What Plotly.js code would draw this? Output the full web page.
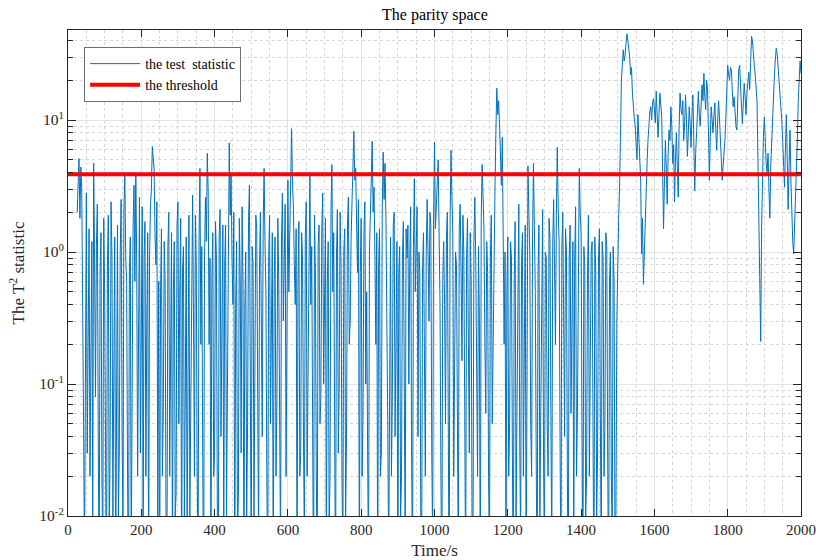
<!DOCTYPE html>
<html>
<head>
<meta charset="utf-8">
<script src="https://cdn.plot.ly/plotly-3.0.1.min.js"></script>
<style>html,body{margin:0;padding:0;background:#fff;}#chart{width:816px;height:560px;}</style>
</head>
<body>
<div id="chart"></div>
<script>
// ---- data ----
// samples at t = 25, 30, ..., 2000
const timeStart = 25;
const timeStep = 5;
const testStatistic = [
  2.0, 5.1, 4.4, 0.7, 0.004, 2.8, 0.15, 0.02, 1.2, 4.7,
  0.08, 2.3, 0.003, 1.4, 0.006, 0.5, 0.002, 1.9, 0.04, 0.9,
  0.25, 0.003, 1.6, 0.03, 2.5, 0.007, 4.0, 0.6, 0.002, 1.3,
  0.1, 3.2, 4.0, 0.02, 2.6, 0.4, 0.005, 1.7, 0.3, 0.003,
  2.2, 6.3, 4.2, 0.8, 0.01, 0.002, 1.5, 0.06, 0.6, 0.004,
  2.0, 0.3, 0.003, 1.2, 0.015, 2.4, 0.5, 0.002, 1.1, 0.08,
  0.006, 1.9, 0.12, 2.7, 0.02, 0.8, 0.004, 4.3, 1.1, 0.002,
  2.6, 5.6, 0.2, 0.003, 1.4, 0.03, 0.9, 0.002, 2.1, 0.35,
  0.005, 1.6, 0.09, 6.7, 3.8, 0.4, 0.002, 1.2, 0.015, 0.6,
  2.2, 0.003, 1.0, 0.05, 3.2, 0.004, 0.8, 0.2, 1.5, 0.006,
  2.0, 0.04, 4.3, 0.5, 0.003, 1.9, 0.25, 0.002, 1.3, 0.07,
  0.6, 0.005, 2.8, 1.0, 0.02, 3.5, 1.6, 8.6, 2.2, 0.4,
  0.003, 1.7, 0.03, 0.9, 0.006, 2.4, 0.15, 3.9, 1.1, 0.002,
  0.7, 0.004, 1.6, 0.08, 2.8, 0.3, 0.003, 1.2, 0.02, 4.6,
  1.4, 0.002, 2.1, 0.1, 0.8, 0.005, 1.5, 0.04, 2.6, 0.3,
  3.0, 8.2, 4.3, 0.7, 0.003, 1.8, 0.06, 2.4, 0.5, 0.004,
  2.2, 6.9, 3.1, 0.2, 0.002, 1.5, 0.03, 5.7, 4.7, 0.5,
  0.004, 1.3, 0.08, 2.0, 0.3, 0.002, 1.1, 0.02, 1.7, 0.006,
  0.9, 0.1, 2.2, 0.003, 3.6, 1.2, 0.04, 0.7, 0.005, 1.4,
  0.02, 2.5, 0.3, 1.6, 0.006, 6.8, 2.8, 5.0, 0.4, 0.003,
  1.2, 0.05, 2.0, 0.002, 5.9, 1.4, 0.1, 0.8, 0.004, 2.3,
  0.15, 1.0, 0.003, 1.8, 0.03, 0.6, 0.005, 2.6, 0.2, 1.1,
  0.002, 4.6, 1.5, 0.06, 0.7, 0.004, 1.9, 0.3, 3.0, 17.4,
  14.0, 5.0, 7.4, 0.2, 0.004, 1.3, 0.05, 0.9, 0.002, 1.7,
  0.1, 2.3, 0.006, 1.4, 0.3, 0.003, 4.5, 1.0, 0.02, 4.7,
  0.5, 0.002, 1.6, 0.08, 2.1, 0.004, 0.9, 0.02, 1.3, 0.005,
  2.5, 0.2, 6.2, 1.2, 0.003, 2.0, 0.04, 1.0, 0.002, 1.6,
  0.3, 0.005, 2.2, 0.06, 4.3, 1.4, 0.003, 0.8, 0.02, 1.9,
  0.1, 1.2, 0.002, 0.7, 0.03, 1.5, 0.004, 0.9, 0.05, 1.1,
  0.002, 1.0, 0.006, 0.6, 0.01, 1.2,
  3.1, 20, 34, 31, 45, 36, 22, 16, 10.5, 7,
  11, 6, 0.97, 0.57, 2.1, 4.7, 9.8, 12.6, 13.5, 12,
  16.5, 7.4, 16, 10.5, 1.5, 7, 2.3, 8.4, 12.6, 4.7,
  2.4, 8, 2.6, 16, 11, 7, 15.5, 5.3, 12.6, 6.2,
  15.5, 2.9, 9, 16.5, 9, 18.5, 22.6, 12, 17, 3.5,
  12.6, 8, 13.5, 5.9, 14, 7, 3.5, 5.6, 10.5, 26,
  20, 24, 12.6, 11, 8.4, 24, 20, 9.4, 19, 11,
  21, 17, 43, 30, 22, 14, 2, 0.21, 4.7, 10.5,
  4.7, 5.6, 1.8, 7.4, 16, 29, 32, 21, 14, 7,
  3.1, 11, 2.1, 8.4, 1.8, 0.97, 2.3, 7, 24, 22.6
];
// samples in between, at t = 27.5, 32.5, ..., 1997.5
const testStatisticMid = [
  3.5, 1.8, 3.0, 0.05, 0.6, 0.03, 1.5, 0.6, 0.01, 0.9,
  1.1, 0.04, 0.7, 0.02, 1.8, 0.03, 0.8, 0.005, 2.4, 0.01,
  1.3, 0.5, 0.01, 1.0, 0.05, 2.0, 0.9, 0.02, 0.7, 0.004,
  1.5, 0.6, 0.8, 1.1, 0.03, 2.2, 0.9, 0.02, 1.4, 0.9,
  3.0, 5.0, 1.3, 2.4, 0.6, 0.5, 0.02, 1.2, 0.008, 1.1,
  0.02, 1.4, 0.5, 0.01, 1.6, 0.05, 1.8, 0.7, 0.01, 1.3,
  0.7, 0.01, 1.5, 0.3, 1.9, 0.02, 1.2, 0.2, 0.03, 0.9,
  1.2, 2.9, 0.9, 0.6, 0.02, 1.7, 0.01, 1.3, 0.04, 1.6,
  0.8, 0.01, 2.5, 1.9, 0.9, 2.0, 0.4, 0.006, 1.8, 0.03,
  0.6, 0.4, 0.01, 1.7, 0.1, 1.1, 0.01, 1.9, 0.03, 0.8,
  0.3, 1.5, 1.2, 0.02, 0.9, 0.05, 1.4, 0.6, 0.02, 1.8,
  0.03, 1.2, 0.3, 2.3, 1.0, 0.5, 3.0, 3.4, 0.8, 1.5,
  0.6, 0.02, 1.4, 0.04, 1.3, 0.02, 1.6, 0.4, 0.05, 1.9,
  0.02, 1.1, 0.05, 1.5, 0.1, 1.8, 0.6, 0.008, 2.0, 0.5,
  0.1, 0.9, 0.03, 2.0, 0.02, 1.0, 0.01, 1.6, 0.2, 1.3,
  4.8, 3.5, 1.6, 2.5, 0.7, 0.02, 1.4, 0.1, 0.03, 1.0,
  4.0, 2.0, 0.9, 1.4, 0.8, 0.02, 2.2, 2.5, 1.8, 0.05,
  0.5, 0.02, 1.6, 0.04, 1.2, 0.7, 0.01, 0.9, 0.1, 1.5,
  1.6, 0.9, 0.03, 1.1, 0.5, 2.2, 1.0, 0.01, 0.8, 0.3,
  1.0, 0.9, 2.0, 0.03, 1.9, 1.5, 3.4, 1.1, 0.02, 0.6,
  0.4, 1.3, 0.06, 1.7, 2.6, 0.02, 1.0, 0.03, 1.5, 0.7,
  1.9, 0.06, 0.9, 0.2, 1.4, 0.01, 1.2, 0.9, 0.02, 0.3,
  1.8, 2.5, 0.2, 1.2, 0.02, 0.9, 0.05, 1.7, 8.0, 11.0,
  9.0, 3.2, 1.8, 1.0, 0.5, 0.02, 1.2, 0.03, 0.6, 0.01,
  0.9, 0.04, 0.8, 0.02, 1.6, 1.1, 2.0, 0.05, 1.3, 1.6,
  0.03, 0.7, 0.01, 1.3, 0.03, 1.0, 0.05, 1.8, 0.06, 1.1,
  0.8, 1.9, 2.2, 0.04, 1.1, 0.3, 1.5, 0.02, 0.9, 0.06,
  1.2, 0.9, 0.02, 1.5, 2.0, 0.05, 1.1, 0.01, 0.7, 0.02,
  1.0, 0.04, 1.3, 0.01, 0.9, 0.06, 1.2, 0.02, 1.4, 0.03,
  0.6, 0.02, 1.1, 0.005, 0.3,
  1.8, 9, 26, 28, 38, 40, 30, 25, 12, 9,
  5, 8, 3.5, 1.8, 1.0, 3.2, 7, 11.5, 10, 14.5,
  9.5, 12, 11, 13, 4, 3.5, 4.2, 5.5, 7, 9,
  6.5, 5, 4.5, 9, 12, 14, 9.5, 10, 8, 9.5,
  11, 7, 5.5, 12.5, 11, 13, 14, 15, 20, 8,
  7.5, 10, 11, 8.5, 9.5, 10.5, 5, 4.5, 7, 18,
  22, 25, 17, 15, 9, 16, 26, 13, 14, 15,
  16, 23, 28, 40, 26, 18, 5, 0.8, 1.5, 7.5,
  6.5, 4.0, 3.0, 4.5, 11, 22, 35, 26, 17, 10,
  4.5, 6, 5, 4.5, 3.5, 1.2, 1.5, 4.5, 14, 28
];
const thresholdValue = 3.88;
const thresholdSpan = [0, 2000];
const xTickVals = [0, 200, 400, 600, 800, 1000, 1200, 1400, 1600, 1800, 2000];
const yTickVals = [0.01, 0.1, 1, 10];
const yTickText = ['10<sup>-2</sup>', '10<sup>-1</sup>', '10<sup>0</sup>', '10<sup>1</sup>'];
const yMinorVals = [0.02,0.03,0.04,0.05,0.06,0.07,0.08,0.09,
                    0.2,0.3,0.4,0.5,0.6,0.7,0.8,0.9,
                    2,3,4,5,6,7,8,9,20,30,40];
const legendNames = ['the test  statistic', 'the threshold'];

// interleave the two sample sets in time order
const time = [], stat = [];
testStatistic.forEach((v, i) => {
  time.push(timeStart + i * timeStep); stat.push(v);
  if (i < testStatisticMid.length) {
    time.push(timeStart + i * timeStep + timeStep / 2); stat.push(testStatisticMid[i]);
  }
});

const serif = 'Liberation Serif, Times New Roman, serif';
const axisColor = '#262626';

const traces = [
  {
    x: time, y: stat, type: 'scatter', mode: 'lines',
    name: legendNames[0],
    line: {color: '#0072BD', width: 1}
  },
  {
    x: thresholdSpan, y: [thresholdValue, thresholdValue], type: 'scatter', mode: 'lines',
    name: legendNames[1],
    line: {color: '#FF0000', width: 4}
  }
];

const layout = {
  width: 816, height: 560,
  margin: {l: 68, r: 15, t: 30, b: 44},
  paper_bgcolor: '#fff', plot_bgcolor: '#fff',
  font: {family: serif, color: axisColor, size: 15},
  title: {text: 'The parity space', font: {family: serif, size: 16, color: '#000'}, x: 0.533, xanchor: 'center', y: 0.975, yanchor: 'middle'},
  showlegend: true,
  legend: {
    x: 0.022, y: 0.965, xanchor: 'left', yanchor: 'top',
    bgcolor: '#fff', bordercolor: '#6e6e6e', borderwidth: 1,
    font: {family: serif, size: 14, color: '#000'},
    itemwidth: 50
  },
  xaxis: {
    range: [0, 2000], tickmode: 'array', tickvals: xTickVals,
    ticks: 'inside', ticklen: 7, tickwidth: 1, tickcolor: axisColor,
    showline: true, linecolor: axisColor, linewidth: 1, mirror: 'ticks',
    showgrid: true, gridcolor: '#e3e3e3', gridwidth: 1,
    minor: {dtick: 50, showgrid: true, gridcolor: '#d6d6d6', griddash: 'dot', gridwidth: 1},
    zeroline: false,
    tickfont: {family: serif, size: 15, color: axisColor},
    title: {text: 'Time/s', font: {family: serif, size: 17, color: axisColor}, standoff: 8}
  },
  yaxis: {
    type: 'log', range: [-2, 1.682],
    tickmode: 'array', tickvals: yTickVals, ticktext: yTickText,
    ticks: 'inside', ticklen: 8, tickwidth: 1, tickcolor: axisColor,
    showline: true, linecolor: axisColor, linewidth: 1, mirror: 'ticks',
    showgrid: true, gridcolor: '#e3e3e3', gridwidth: 1,
    minor: {tickmode: 'array', tickvals: yMinorVals, ticks: 'inside', ticklen: 5, tickcolor: axisColor,
            showgrid: true, gridcolor: '#d6d6d6', griddash: 'dot', gridwidth: 1},
    zeroline: false,
    tickfont: {family: serif, size: 15.5, color: axisColor},
    title: {text: 'The T<sup>2</sup> statistic', font: {family: serif, size: 17, color: axisColor}, standoff: 10}
  }
};

Plotly.newPlot('chart', traces, layout, {displayModeBar: false, staticPlot: true});
</script>
</body>
</html>
